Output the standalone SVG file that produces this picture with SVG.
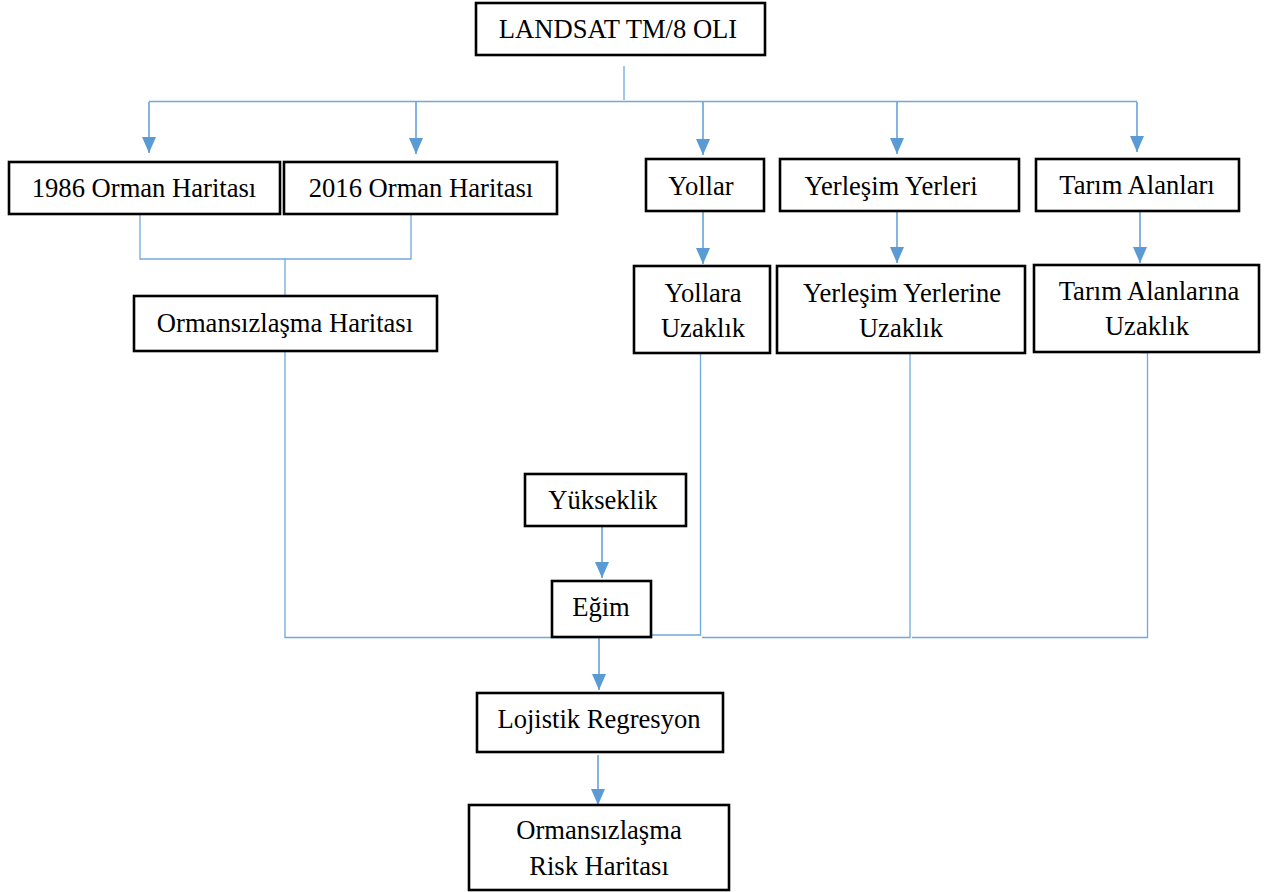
<svg xmlns="http://www.w3.org/2000/svg" width="1266" height="892" viewBox="0 0 1266 892">
<style>
.box{fill:#fff;stroke:#000;stroke-width:2.6}
.t{font-family:"Liberation Serif","Times New Roman",serif;font-size:26.6px;fill:#000;text-anchor:middle}
.c{fill:none;stroke:#5B9BD5;stroke-width:1.5}
.b{fill:none;stroke:#6FA8DC;stroke-width:1.3}
</style>
<defs>
<marker id="ah" viewBox="0 0 16 14" refX="16" refY="7" markerWidth="16" markerHeight="14" markerUnits="userSpaceOnUse" orient="auto">
<path d="M0,0 L16,7 L0,14 Z" fill="#5B9BD5"/>
</marker>
</defs>
<rect width="1266" height="892" fill="#fff"/>
<g id="connectors">
<path class="b" d="M624,66 V100"/>
<path class="b" d="M149,101.5 H1137"/>
<path class="c" d="M149,102 V153" marker-end="url(#ah)"/>
<path class="c" d="M416,102 V154" marker-end="url(#ah)"/>
<path class="c" d="M703,102 V155" marker-end="url(#ah)"/>
<path class="c" d="M897,102 V154" marker-end="url(#ah)"/>
<path class="c" d="M1137,102 V152" marker-end="url(#ah)"/>
<path class="b" d="M140,214 V259 H411 V214"/>
<path class="b" d="M285,259 V296"/>
<path class="c" d="M703,212 V264" marker-end="url(#ah)"/>
<path class="c" d="M897,212 V263" marker-end="url(#ah)"/>
<path class="c" d="M1140,211 V263" marker-end="url(#ah)"/>
<path class="b" d="M285,351 V637.5 H652"/>
<path class="b" d="M703,353 H700.5 V635 H599"/>
<path class="b" d="M910,353 V637.5 H702"/>
<path class="b" d="M1141,352.5 H1147.5 V637.5 H912"/>
<path class="c" d="M602,526 V578" marker-end="url(#ah)"/>
<path class="c" d="M599,637 V690" marker-end="url(#ah)"/>
<path class="c" d="M598,755 V805" marker-end="url(#ah)"/>
</g>
<g id="landsat"><rect class="box" x="476" y="3" width="289" height="52"/><text class="t" x="618" y="38">LANDSAT TM/8 OLI</text></g>
<g id="orman1986"><rect class="box" x="9" y="162" width="271" height="52"/><text class="t" x="144" y="197">1986 Orman Haritası</text></g>
<g id="orman2016"><rect class="box" x="284" y="162" width="273" height="52"/><text class="t" x="421" y="197">2016 Orman Haritası</text></g>
<g id="yollar"><rect class="box" x="646" y="159" width="118" height="52"/><text class="t" x="701" y="195">Yollar</text></g>
<g id="yerlesim"><rect class="box" x="780" y="159" width="239" height="52"/><text class="t" x="891" y="195">Yerleşim Yerleri</text></g>
<g id="tarim"><rect class="box" x="1036" y="159" width="203" height="52"/><text class="t" x="1137" y="194">Tarım Alanları</text></g>
<g id="ormansizlasma"><rect class="box" x="134" y="296" width="303" height="55"/><text class="t" x="285" y="332">Ormansızlaşma Haritası</text></g>
<g id="yollaraUzaklik"><rect class="box" x="634" y="266" width="136" height="87"/><text class="t" x="703" y="302">Yollara</text><text class="t" x="703" y="337">Uzaklık</text></g>
<g id="yerlesimUzaklik"><rect class="box" x="777" y="266" width="248" height="87"/><text class="t" x="902" y="302">Yerleşim Yerlerine</text><text class="t" x="901" y="337">Uzaklık</text></g>
<g id="tarimUzaklik"><rect class="box" x="1034" y="265" width="225" height="87"/><text class="t" x="1149" y="300">Tarım Alanlarına</text><text class="t" x="1147" y="335">Uzaklık</text></g>
<g id="yukseklik"><rect class="box" x="525" y="474" width="161" height="52"/><text class="t" x="603" y="509">Yükseklik</text></g>
<g id="egim"><rect class="box" x="552" y="581" width="99" height="56"/><text class="t" x="601" y="616">Eğim</text></g>
<g id="lojistik"><rect class="box" x="477" y="693" width="246" height="59"/><text class="t" x="599" y="728">Lojistik Regresyon</text></g>
<g id="risk"><rect class="box" x="469" y="805" width="260" height="85"/><text class="t" x="599" y="839">Ormansızlaşma</text><text class="t" x="599" y="875">Risk Haritası</text></g>
</svg>
